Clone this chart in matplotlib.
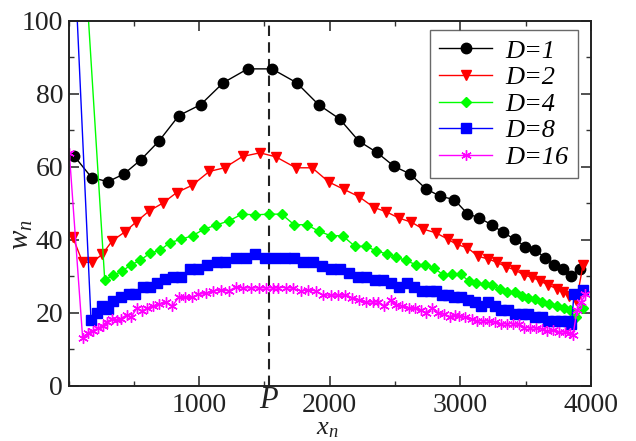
import matplotlib
matplotlib.use("Agg")
import matplotlib.pyplot as plt
from matplotlib.ticker import MultipleLocator

plt.rcParams['font.family'] = ['Liberation Serif', 'DejaVu Serif']
plt.rcParams['mathtext.fontset'] = 'custom'
plt.rcParams['mathtext.rm'] = 'Liberation Serif'
plt.rcParams['mathtext.it'] = 'Liberation Serif:italic'

P = 1536

x1 = [40, 176, 301, 423, 553, 691, 844, 1011, 1184, 1371, 1557, 1746, 1914, 2075, 2223, 2361, 2493,
      2616, 2734, 2845, 2953, 3055, 3144, 3239, 3328, 3417, 3499, 3573, 3647, 3716, 3783, 3848, 3914]
y1 = [63.0, 57.0, 55.9, 58.0, 61.9, 67.0, 74.0, 77.0, 83.0, 86.8, 86.8, 83.0, 77.0, 73.1, 67.0, 63.9, 60.1,
      58.0, 54.0, 51.9, 51.0, 47.1, 46.0, 44.1, 42.0, 40.1, 38.1, 37.2, 35.1, 33.1, 32.1, 30.1, 32.1]

x2 = [31, 107, 181, 257, 334, 429, 515, 617, 720, 827, 946, 1077, 1194, 1332, 1465, 1587, 1740, 1865,
      1993, 2108, 2223, 2340, 2430, 2531, 2626, 2715, 2812, 2907, 2971, 3055, 3134, 3213, 3282, 3348,
      3420, 3488, 3550, 3611, 3672, 3737, 3787, 3833, 3890, 3940]
y2 = [40.7, 33.8, 33.8, 36.0, 39.7, 42.1, 44.8, 47.9, 50.0, 52.9, 54.9, 58.7, 59.7, 62.8, 63.8, 62.7, 59.7, 59.7,
      55.8, 53.8, 51.8, 48.8, 47.7, 45.9, 44.8, 42.9, 41.9, 40.1, 38.7, 37.8, 35.5, 34.7, 33.8, 32.6,
      31.7, 30.3, 29.7, 28.7, 27.6, 26.6, 25.7, 24.7, 23.4, 33.0]

x4 = [30, 276, 341, 406, 477, 546, 623, 699, 776, 860, 949, 1038, 1130, 1230, 1327, 1429, 1531, 1631,
      1727, 1822, 1919, 2006, 2098, 2192, 2274, 2353, 2435, 2511, 2583, 2657, 2728, 2799, 2868, 2937,
      3002, 3065, 3124, 3188, 3244, 3302, 3361, 3417, 3469, 3519, 3576, 3626, 3678, 3737, 3793, 3839,
      3890, 3940]
y4 = [170, 29.0, 30.2, 31.3, 33.1, 34.3, 36.3, 37.1, 39.2, 40.1, 41.1, 42.9, 44.0, 45.2, 47.0, 46.8, 47.0, 47.0,
      44.1, 44.1, 42.3, 41.1, 41.1, 38.2, 38.2, 37.0, 36.1, 35.2, 34.3, 33.2, 33.2, 32.2, 30.4, 30.5,
      30.5, 28.7, 28.0, 27.8, 27.6, 26.5, 25.6, 25.6, 24.7, 23.9, 23.8, 22.8, 22.5, 21.9, 21.4, 20.7,
      18.7, 21.4]

x8 = [30, 171, 214, 257, 299, 342, 400, 459, 510, 567, 623, 678, 737, 801, 860, 929, 992, 1061, 1133,
      1197, 1281, 1355, 1427, 1503, 1580, 1656, 1727, 1796, 1868, 1940, 2011, 2077, 2144, 2213, 2276,
      2345, 2409, 2468, 2529, 2588, 2644, 2703, 2766, 2810, 2856, 2907, 2950, 3002, 3060, 3111, 3162,
      3213, 3264, 3315, 3366, 3417, 3469, 3519, 3570, 3622, 3672, 3723, 3775, 3825, 3851, 3871, 3940]
y8 = [128, 18.0, 19.8, 21.9, 21.0, 23.3, 24.2, 25.0, 25.0, 27.0, 27.0, 28.1, 29.2, 29.9, 29.9, 32.0, 32.0, 33.1, 34.0,
      34.0, 35.1, 35.1, 36.0, 35.1, 35.1, 35.1, 35.1, 34.0, 34.0, 32.8, 32.0, 32.0, 31.0, 29.9, 29.9,
      29.0, 29.0, 28.1, 27.0, 28.1, 27.0, 25.9, 25.9, 25.9, 24.9, 24.9, 24.2, 24.2, 23.6, 22.8, 21.7,
      22.8, 21.7, 20.7, 20.7, 19.6, 19.6, 19.6, 18.7, 18.7, 17.7, 17.7, 17.7, 17.7, 16.8, 25.0, 26.1]

x16 = [5, 107, 145, 184, 222, 260, 291, 329, 372, 400, 444, 477, 521, 561, 602, 643, 689, 745, 793, 842,
       891, 942, 992, 1051, 1107, 1166, 1227, 1279, 1337, 1394, 1455, 1511, 1567, 1605, 1664, 1720, 1776,
       1835, 1894, 1950, 2006, 2064, 2118, 2174, 2225, 2276, 2328, 2371, 2417, 2468, 2511, 2557, 2608,
       2652, 2698, 2741, 2784, 2830, 2874, 2920, 2960, 2991, 3034, 3086, 3129, 3175, 3221, 3264, 3308,
       3354, 3400, 3446, 3486, 3532, 3578, 3622, 3665, 3711, 3754, 3800, 3839, 3864, 3894, 3928, 3958]
y16 = [63.7, 13.0, 14.4, 15.1, 15.7, 16.4, 17.5, 18.2, 18.0, 18.4, 19.4, 18.7, 21.2, 20.5, 21.2, 21.8, 22.3, 23.0, 21.8, 24.2,
       24.2, 24.2, 25.0, 25.3, 26.0, 26.2, 26.0, 27.0, 26.8, 26.8, 26.8, 26.8, 26.8, 26.9, 26.9, 26.7, 26.0,
       26.2, 26.0, 24.8, 24.8, 24.8, 24.8, 24.1, 23.5, 22.8, 23.0, 23.0, 21.8, 23.5, 22.1, 21.8, 21.2,
       21.2, 20.7, 20.0, 21.2, 20.0, 19.6, 18.9, 19.5, 19.2, 18.9, 18.3, 17.7, 17.8, 17.7, 17.5, 16.8,
       17.0, 17.0, 16.8, 15.9, 15.9, 15.8, 15.6, 14.9, 15.2, 14.7, 14.7, 14.5, 14.0, 20.7, 23.0, 25.0]

labels = ['D=1', 'D=2', 'D=4', 'D=8', 'D=16']
colors = ['black', 'red', '#00ff00', 'blue', 'magenta']
markers = ['o', 'v', 'D', 's', (6, 2, 0)]
msizes = [7.5, 7.5, 5.5, 6.5, 7.5]
xs_all = [x1, x2, x4, x8, x16]
ys_all = [y1, y2, y4, y8, y16]

fig = plt.figure(figsize=(6.36, 4.41), dpi=100)
ax = fig.add_axes([0.108, 0.1254, 0.821, 0.8277])

for xs, ys, c, m, ms, lab in zip(xs_all, ys_all, colors, markers, msizes, labels):
    ax.plot(xs, ys, color=c, marker=m, ms=ms, lw=1.0, mec=c, mfc=c, mew=1.0, label=lab)

ax.axvline(P, color='#222222', ls=(0, (5, 3)), lw=1.5, zorder=0)

ax.set_xlim(0, 4000)
ax.set_ylim(0, 100)
ax.set_xticks([1000, 2000, 3000, 4000])
ax.set_yticks([0, 20, 40, 60, 80, 100])
ax.xaxis.set_minor_locator(MultipleLocator(500))
ax.yaxis.set_minor_locator(MultipleLocator(10))
ax.tick_params(which='both', direction='in', top=True, right=True, labelsize=20, color='#333333')
ax.tick_params(axis='x', which='major', pad=5)
ax.tick_params(axis='y', which='major', pad=4)
ax.tick_params(which='major', length=7, width=1.2)
ax.tick_params(which='minor', length=3.5, width=1.0)
for s in ax.spines.values():
    s.set_linewidth(1.4)
    s.set_color('#222222')
for lbl in ax.get_xticklabels() + ax.get_yticklabels():
    lbl.set_color('#222222')

W, H = 636.0, 441.0
fig.text(269 / W, 1 - 401 / H, r'$P$', ha='center', va='center', fontsize=22, color='#222222')
fig.text(327 / W, 1 - 429 / H, r'$x_n$', ha='center', va='center', fontsize=19, color='#222222')
fig.text(22 / W, 1 - 235 / H, r'$w_n$', ha='center', va='center', rotation=90, fontsize=21,
         color='#222222')

leg = ax.legend(loc='upper right', bbox_to_anchor=(0.975, 0.975), frameon=True,
                prop={'family': 'Liberation Serif', 'style': 'italic', 'size': 19},
                fancybox=False, edgecolor='#444444', handlelength=2.0, borderpad=0.35,
                labelspacing=0.12, handletextpad=0.5, borderaxespad=0.0)
leg.get_frame().set_linewidth(1.0)

fig.savefig('out.png', dpi=100)
